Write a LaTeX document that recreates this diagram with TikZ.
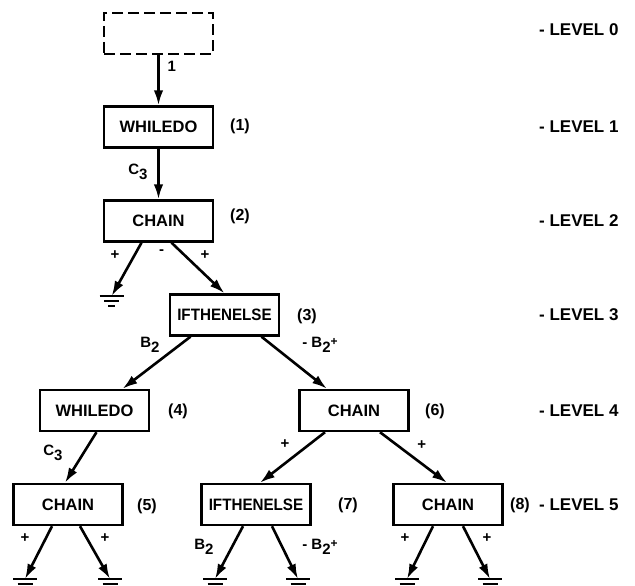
\documentclass[tikz,border=0pt]{standalone}
\usepackage{fontspec}
\setmainfont{Liberation Sans}
\usetikzlibrary{arrows.meta}
\newcommand\lowidx[1]{\raisebox{-0.6ex}{#1}}
\newcommand\highidx[1]{\raisebox{0.35ex}{\fontsize{12}{12}\selectfont #1}}
\newcommand\narrowtext[1]{\scalebox{0.92}[1]{#1}}
\begin{document}
\begin{tikzpicture}[x=1pt,y=-1pt,
  op/.style={draw, line width=2.4pt, minimum width=109pt, minimum height=41pt,
    inner sep=0pt, font=\fontsize{16.5}{16.5}\selectfont\bfseries},
  ghost/.style={op, dash pattern=on 11pt off 5pt},
  tag/.style={font=\fontsize{16}{16}\selectfont\bfseries, inner sep=0pt},
  lvl/.style={anchor=west, inner sep=0pt, font=\fontsize{17}{17}\selectfont\bfseries},
  lab/.style={font=\fontsize{15}{15}\selectfont\bfseries, inner sep=0pt},
  sgn/.style={font=\fontsize{15}{15}\selectfont\bfseries, inner sep=0pt},
  link/.style={line width=2.6pt, -{Latex[length=15pt,width=9.5pt]}},
  earth/.pic={\draw[line width=2.4pt] (-12,0) -- (12,0) (-7.5,5) -- (7.5,5) (-3.5,10) -- (3.5,10);}
]
\useasboundingbox (0,0) rectangle (635,586);

% operator boxes
\node[ghost] (top) at (158.5,33.5) {};
\node[op] (w1) at (158.5,127) {WHILEDO};
\node[op] (c2) at (158.5,221) {CHAIN};
\node[op] (i3) at (224.5,315) {\narrowtext{IFTHENELSE}};
\node[op] (w4) at (94.5,410.5) {WHILEDO};
\node[op] (c6) at (354,410.5) {CHAIN};
\node[op] (c5) at (68,504.5) {CHAIN};
\node[op] (i7) at (256,504.5) {\narrowtext{IFTHENELSE}};
\node[op] (c8) at (448,504.5) {CHAIN};

% node numbers
\node[tag] (t1) at (240,126) {(1)};
\node[tag] (t2) at (240,216) {(2)};
\node[tag] (t3) at (307,316) {(3)};
\node[tag] (t4) at (178,411) {(4)};
\node[tag] (t6) at (435,411) {(6)};
\node[tag] (t5) at (147,506) {(5)};
\node[tag] (t7) at (348,505) {(7)};
\node[tag] (t8) at (520,505) {(8)};

% level captions
\node[lvl] (l0) at (539,30) {- LEVEL 0};
\node[lvl] (l1) at (539,127) {- LEVEL 1};
\node[lvl] (l2) at (539,221) {- LEVEL 2};
\node[lvl] (l3) at (539,315) {- LEVEL 3};
\node[lvl] (l4) at (539,410.5) {- LEVEL 4};
\node[lvl] (l5) at (539,504.5) {- LEVEL 5};

% ground terminals
\coordinate (g1) at (111.7,296);
\coordinate (g2) at (25,579);
\coordinate (g3) at (110,579);
\coordinate (g4) at (215,579);
\coordinate (g5) at (298,579);
\coordinate (g6) at (407,579);
\coordinate (g7) at (490,579);
\foreach \g in {g1,g2,g3,g4,g5,g6,g7} \pic at (\g) {earth};

% connectors
\draw[link] (top) -- (w1);
\draw[link] (w1) -- (c2);
\draw[link] ([xshift=-17pt]c2.south) -- (g1);
\draw[link] ([xshift=13pt]c2.south) -- (i3.north);
\draw[link] ([xshift=-34pt]i3.south) -- ([xshift=28pt]w4.north);
\draw[link] ([xshift=37pt]i3.south) -- ([xshift=-27pt]c6.north);
\draw[link] ([xshift=2pt]w4.south) -- ([xshift=-3pt]c5.north);
\draw[link] ([xshift=-29pt]c6.south) -- ([xshift=4pt]i7.north);
\draw[link] ([xshift=26pt]c6.south) -- ([xshift=-1pt]c8.north);
\draw[link] ([xshift=-16pt]c5.south) -- (g2);
\draw[link] ([xshift=12pt]c5.south) -- (g3);
\draw[link] ([xshift=-13pt]i7.south) -- (g4);
\draw[link] ([xshift=16pt]i7.south) -- (g5);
\draw[link] ([xshift=-15pt]c8.south) -- (g6);
\draw[link] ([xshift=15pt]c8.south) -- (g7);

% connector labels
\node[lab] (e1) at (171.7,66) {1};
\node[lab] (e2) at (138,172) {C\lowidx{3}};
\node[sgn] (e3) at (115,255) {+};
\node[sgn] (e4) at (161.7,252) {-};
\node[sgn] (e5) at (205,255) {+};
\node[lab] (e6) at (150,345) {B\lowidx{2}};
\node[lab] (e7) at (320,345) {- B\lowidx{2}\highidx{+}};
\node[lab] (e8) at (53,453) {C\lowidx{3}};
\node[sgn] (e9) at (285,444) {+};
\node[sgn] (e10) at (421.7,445) {+};
\node[sgn] (e11) at (25,538) {+};
\node[sgn] (e12) at (105,538) {+};
\node[lab] (e13) at (204,547) {B\lowidx{2}};
\node[lab] (e14) at (320,547) {- B\lowidx{2}\highidx{+}};
\node[sgn] (e15) at (405,538) {+};
\node[sgn] (e16) at (487,538) {+};
\end{tikzpicture}
\end{document}
